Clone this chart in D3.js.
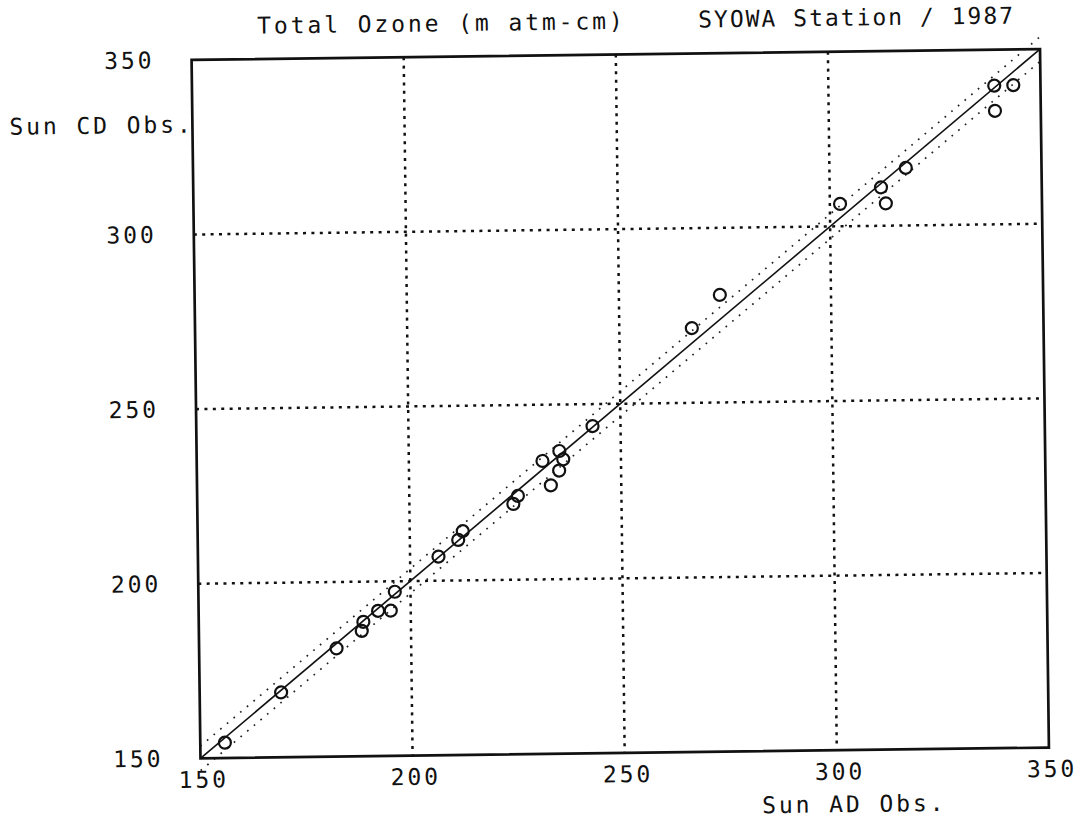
<!DOCTYPE html>
<html>
<head>
<meta charset="utf-8">
<script src="https://cdn.jsdelivr.net/npm/d3@7"></script>
<style>
  html, body { margin: 0; padding: 0; background: #fff; }
  svg { display: block; }
  text { font-family: "DejaVu Sans Mono", monospace; fill: #111; white-space: pre; }
</style>
</head>
<body>
<svg id="chart" width="1078" height="820"></svg>
<script>
// Total ozone, SYOWA Station 1987: Sun AD observations vs Sun CD observations (m atm-cm)
const sunAD = [155.8, 169.2, 182.4, 188.4, 188.8, 192.3, 195.3, 196.3, 206.7, 211.4,
               212.5, 224.5, 225.6, 231.5, 233.4, 235.4, 235.5, 236.4, 243.4, 267.1,
               273.8, 302.4, 312.1, 313.2, 318.0, 339.1, 339.2, 343.6];
const sunCD = [154.4, 168.6, 181.0, 185.9, 188.5, 191.6, 191.6, 197.0, 206.9, 211.6,
               214.1, 221.7, 224.0, 233.9, 226.9, 231.1, 236.7, 234.3, 243.7, 271.4,
               280.8, 306.4, 311.0, 306.4, 316.5, 339.7, 332.5, 339.8];
const xTicks = [150, 200, 250, 300, 350];
const yTicks = [150, 200, 250, 300, 350];
const gridValues = [200, 250, 300];
const domain = [150, 350];
const bandHalfWidth = 3.5;   // dotted lines either side of the 1:1 line
const titleLeft = "Total Ozone (m atm-cm)";
const titleRight = "SYOWA Station / 1987";
const xLabel = "Sun AD Obs.";
const yLabel = "Sun CD Obs.";

const svg = d3.select("#chart");
const plot = { left: 196, right: 1044.5, top: 54.5, bottom: 753 };
const x = d3.scaleLinear().domain(domain).range([plot.left, plot.right]);
const y = d3.scaleLinear().domain(domain).range([plot.bottom, plot.top]);

// the plotted sheet sits slightly askew
const g = svg.append("g")
  .attr("transform", "rotate(-0.73, 620.25, 403.75)");

const fontSize = 23, spacing = 2.9;

// dotted grid
g.append("g").selectAll("line").data(gridValues).join("line")
  .attr("x1", d => x(d)).attr("x2", d => x(d))
  .attr("y1", plot.top).attr("y2", plot.bottom)
  .attr("stroke", "#111").attr("stroke-width", 2.5)
  .attr("stroke-dasharray", "3,5.4");
g.append("g").selectAll("line").data(gridValues).join("line")
  .attr("y1", d => y(d)).attr("y2", d => y(d))
  .attr("x1", plot.left).attr("x2", plot.right)
  .attr("stroke", "#111").attr("stroke-width", 2.5)
  .attr("stroke-dasharray", "3,5.4");

// band lines around the 1:1 line
[-bandHalfWidth, bandHalfWidth].forEach(off => {
  g.append("line")
    .attr("x1", x(domain[0])).attr("y1", y(domain[0] + off))
    .attr("x2", x(domain[1])).attr("y2", y(domain[1] + off))
    .attr("stroke", "#222").attr("stroke-width", 1.7)
    .attr("stroke-dasharray", "1.7,7");
});

// 1:1 line
g.append("line")
  .attr("x1", x(domain[0])).attr("y1", y(domain[0]))
  .attr("x2", x(domain[1])).attr("y2", y(domain[1]))
  .attr("stroke", "#111").attr("stroke-width", 1.6);

// frame
g.append("rect")
  .attr("x", plot.left).attr("y", plot.top)
  .attr("width", plot.right - plot.left).attr("height", plot.bottom - plot.top)
  .attr("fill", "none").attr("stroke", "#111").attr("stroke-width", 2.7);

// observations
g.append("g").selectAll("circle").data(sunAD.map((v, i) => [v, sunCD[i]])).join("circle")
  .attr("cx", d => x(d[0])).attr("cy", d => y(d[1]))
  .attr("r", 6)
  .attr("fill", "none").attr("stroke", "#111").attr("stroke-width", 2.2);

// axes (labels only)
const xAxis = g.append("g")
  .attr("transform", `translate(0,${plot.bottom})`)
  .call(d3.axisBottom(x).tickValues(xTicks).tickSize(0).tickPadding(13).tickFormat(d3.format("d")));
xAxis.select(".domain").remove();
xAxis.selectAll("text")
  .attr("dx", spacing / 2 + 1)
  .style("font-size", fontSize + "px").style("letter-spacing", spacing + "px")
  .style("font-family", "DejaVu Sans Mono, monospace").attr("fill", "#111");

const yAxis = g.append("g")
  .attr("transform", `translate(${plot.left},0)`)
  .call(d3.axisLeft(y).tickValues(yTicks).tickSize(0).tickPadding(40 - spacing).tickFormat(d3.format("d")));
yAxis.select(".domain").remove();
yAxis.selectAll("text")
  .style("font-size", fontSize + "px").style("letter-spacing", spacing + "px")
  .style("font-family", "DejaVu Sans Mono, monospace").attr("fill", "#111");

// titles
const addText = (str, tx, ty, ls) => g.append("text")
  .attr("x", tx).attr("y", ty)
  .style("font-size", fontSize + "px").style("letter-spacing", ls + "px")
  .text(str);
addText(titleLeft, 262, 29, spacing);
addText(titleRight, 703, 28.5, 2.0);
addText(yLabel, 13, 127, spacing);
addText(xLabel, 757, 815, spacing);
</script>
</body>
</html>
